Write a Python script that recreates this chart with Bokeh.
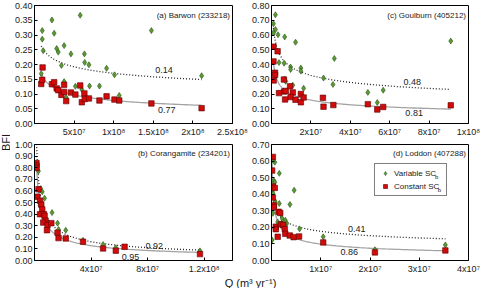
import numpy as np
from math import pi
from bokeh.plotting import figure
from bokeh.models import Range1d, FixedTicker, Label, Legend, LegendItem, PrintfTickFormatter
from bokeh.layouts import row, column
from bokeh.embed import file_html
from bokeh.resources import INLINE

FONT = "Liberation Sans"
GREEN_FILL, GREEN_LINE = "#5a9a35", "#2a5214"
RED_FILL, RED_LINE = "#d20a0a", "#5e0000"
TXT = "#1a1a1a"

# ---------------- (a) Barwon ----------------
A_Q_VAR = [8.5e6, 9.8e6, 9.8e6, 11e6, 22e6, 24.8e6, 28e6, 30e6, 34e6, 37.4e6, 37.4e6, 40e6, 46e6,
           51.6e6, 57.7e6, 59.8e6, 63e6, 63.4e6, 68.7e6, 69.5e6, 82e6, 91e6, 101e6, 107e6, 147.6e6, 211e6]
A_BFI_VAR = [0.169, 0.315, 0.286, 0.247, 0.351, 0.306, 0.254, 0.242, 0.197, 0.264, 0.142, 0.088, 0.236,
             0.126, 0.367, 0.115, 0.236, 0.207, 0.199, 0.127, 0.127, 0.187, 0.165, 0.095, 0.315, 0.162]
A_Q_CON = [8.5e6, 9.8e6, 10.2e6, 22e6, 24.8e6, 28e6, 30e6, 34e6, 37.4e6, 37.4e6, 40e6, 46e6, 51.6e6,
           57.7e6, 59.8e6, 63e6, 63.4e6, 68.7e6, 82e6, 91e6, 101e6, 107e6, 147.6e6, 211e6]
A_BFI_CON = [0.134, 0.148, 0.190, 0.133, 0.140, 0.119, 0.113, 0.097, 0.131, 0.107, 0.076, 0.105, 0.098,
             0.129, 0.072, 0.102, 0.083, 0.085, 0.078, 0.092, 0.081, 0.078, 0.068, 0.052]
A_XTICKS = [5e7, 1e8, 1.5e8, 2e8, 2.5e8]
A_XLABELS = ["5x10⁷", "1x10⁸", "1.5x10⁸", "2x10⁸", "2.5x10⁸"]
A_YTICKS = [0.0, 0.05, 0.10, 0.15, 0.20, 0.25, 0.30, 0.35, 0.40]
A_TITLE = "(a) Barwon (233218)"
A_R2 = ["0.14", "0.77"]

# ---------------- (b) Corangamite ----------------
B_Q_VAR = [1.4e6, 2.8e6, 4.4e6, 5.5e6, 7.1e6, 3.9e6, 6.0e6, 7.1e6, 8.5e6, 8.8e6, 12.4e6, 16.3e6,
           17.0e6, 22.1e6, 34.3e6, 48.5e6, 57.5e6, 117e6]
B_BFI_VAR = [0.83, 0.771, 0.620, 0.592, 0.537, 0.476, 0.399, 0.366, 0.344, 0.316, 0.413, 0.322,
             0.267, 0.261, 0.174, 0.137, 0.110, 0.083]
B_Q_CON = [1.4e6, 1.4e6, 1.4e6, 2.8e6, 2.1e6, 3.9e6, 4.8e6, 5.5e6, 3.9e6, 6.7e6, 7.1e6, 7.8e6, 6.2e6,
           9.2e6, 8.8e6, 11.9e6, 16.3e6, 17.0e6, 22.1e6, 34.3e6, 48.5e6, 57.5e6, 63.7e6, 117e6]
B_BFI_CON = [0.840, 0.818, 0.798, 0.614, 0.550, 0.515, 0.482, 0.440, 0.399, 0.399, 0.385, 0.344, 0.327,
             0.306, 0.261, 0.322, 0.240, 0.193, 0.190, 0.162, 0.104, 0.085, 0.118, 0.055]
B_XTICKS = [4e7, 8e7, 1.2e8]
B_XLABELS = ["4x10⁷", "8x10⁷", "1.2x10⁸"]
B_YTICKS = [0.0, 0.1, 0.2, 0.3, 0.4, 0.5, 0.6, 0.7, 0.8, 0.9, 1.0]
B_TITLE = "(b) Corangamite (234201)"
B_R2 = ["0.92", "0.95"]

# ---------------- (c) Goulburn ----------------
C_Q_VAR = [1.0e6, 2.0e6, 2.0e6, 1.0e6, 3.3e6, 6.7e6, 12.2e6, 31.9e6, 3.8e6, 6.4e6, 9.7e6, 9.7e6,
           14.9e6, 14.9e6, 6.7e6, 7.2e6, 10.8e6, 16.3e6, 26.4e6, 31.2e6, 48.9e6, 56.7e6, 53.7e6, 91e6]
C_BFI_VAR = [0.677, 0.737, 0.637, 0.615, 0.602, 0.587, 0.551, 0.441, 0.413, 0.409, 0.383, 0.366,
             0.376, 0.355, 0.301, 0.286, 0.260, 0.239, 0.308, 0.265, 0.211, 0.226, 0.142, 0.559]
C_Q_CON = [1.0e6, 1.0e6, 3.1e6, 1.8e6, 1.8e6, 1.1e6, 3.8e6, 6.4e6, 6.3e6, 7.2e6, 6.9e6, 9.4e6, 10.8e6,
           9.7e6, 12.2e6, 14.9e6, 14.9e6, 16.3e6, 26.1e6, 26.4e6, 31.4e6, 48.9e6, 53.7e6, 56.7e6, 91e6]
C_BFI_CON = [0.521, 0.421, 0.490, 0.344, 0.329, 0.292, 0.206, 0.217, 0.298, 0.221, 0.163, 0.252, 0.211,
             0.179, 0.161, 0.200, 0.144, 0.176, 0.174, 0.114, 0.125, 0.131, 0.095, 0.112, 0.123]
C_XTICKS = [2e7, 4e7, 6e7, 8e7, 1e8]
C_XLABELS = ["2x10⁷", "4x10⁷", "6x10⁷", "8x10⁷", "1x10⁸"]
C_YTICKS = [0.0, 0.1, 0.2, 0.3, 0.4, 0.5, 0.6, 0.7, 0.8]
C_TITLE = "(c) Goulburn (405212)"
C_R2 = ["0.48", "0.81"]

# ---------------- (d) Loddon ----------------
D_Q_VAR = [0.27e6, 0.67e6, 1.58e6, 0.47e6, 0.67e6, 0.13e6, 0.33e6, 1.58e6, 3.74e6, 4.6e6, 0.27e6, 1.26e6,
           1.9e6, 2.2e6, 2.0e6, 2.8e6, 3.1e6, 2.6e6, 5.7e6, 10.5e6, 21e6, 35.3e6, 0.13e6, 0.73e6]
D_BFI_VAR = [0.610, 0.593, 0.526, 0.482, 0.472, 0.415, 0.405, 0.344, 0.338, 0.424, 0.285, 0.233,
             0.281, 0.252, 0.224, 0.243, 0.224, 0.214, 0.191, 0.143, 0.065, 0.094, 0.124, 0.357]
D_Q_CON = [0.27e6, 0.13e6, 0.27e6, 0.66e6, 0.27e6, 0.47e6, 0.47e6, 1.45e6, 1.77e6, 0.87e6, 0.87e6,
           1.26e6, 1.9e6, 2.4e6, 2.7e6, 2.8e6, 3.7e6, 4.5e6, 5.6e6, 10.5e6, 21e6, 35.3e6]
D_BFI_CON = [0.625, 0.543, 0.447, 0.438, 0.380, 0.334, 0.323, 0.294, 0.287, 0.204, 0.189,
             0.143, 0.218, 0.214, 0.189, 0.161, 0.151, 0.141, 0.145, 0.109, 0.049, 0.061]
D_XTICKS = [1e7, 2e7, 3e7, 4e7]
D_XLABELS = ["1x10⁷", "2x10⁷", "3x10⁷", "4x10⁷"]
D_YTICKS = [0.0, 0.1, 0.2, 0.3, 0.4, 0.5, 0.6, 0.7]
D_TITLE = "(d) Loddon (407288)"
D_R2 = ["0.41", "0.86"]

LEGEND_LABELS = ["Variable SC", "Constant SC"]
LEGEND_SUB = "b"
Y_LABEL = "BFI"
X_LABEL = "Q (m³ yr⁻¹)"


def power_fit(q, b):
    slope, intercept = np.polyfit(np.log(q), np.log(b), 1)
    xs = np.geomspace(min(q), max(q), 200)
    return xs, np.exp(intercept) * xs ** slope


def panel(qv, bv, qc, bc, xmax, ymax, xticks, xlabels, yticks, title, r2, r2v_pos, r2c_pos,
          width, height, bl, br, bt, bb, legend=False):
    fw = width - bl - br
    fh = height - bt - bb
    px = xmax / fw
    py = ymax / fh
    p = figure(width=width, height=height, x_range=Range1d(0, xmax), y_range=Range1d(0, ymax),
               output_backend="svg", toolbar_location=None,
               min_border_left=bl, min_border_right=br, min_border_top=bt, min_border_bottom=bb,
               background_fill_color="white", border_fill_color="white")
    p.grid.visible = False
    p.outline_line_color = "black"
    p.outline_line_width = 1
    for ax in (p.xaxis[0], p.yaxis[0]):
        ax.axis_line_color = "black"
        ax.major_tick_line_color = "black"
        ax.major_tick_in = 3
        ax.major_tick_out = 0
        ax.minor_tick_line_color = None
        ax.major_label_text_font = FONT
        ax.major_label_text_font_size = "9px"
        ax.major_label_text_color = TXT
    xa = p.xaxis[0]
    xa.ticker = FixedTicker(ticks=xticks)
    xa.major_label_overrides = {t: l for t, l in zip(xticks, xlabels)}
    xa.major_label_standoff = 3
    ya = p.yaxis[0]
    ya.ticker = FixedTicker(ticks=yticks)
    ya.formatter = PrintfTickFormatter(format="%.2f")
    ya.major_label_standoff = 2

    xs, ys = power_fit(qv, bv)
    p.line(xs, ys, line_color="#222222", line_width=1.3, line_dash="1 2")
    xs, ys = power_fit(qc, bc)
    p.line(xs, ys, line_color="#a3a3a3", line_width=1.3)

    rv = p.scatter(qv, bv, marker="diamond", size=6, fill_color=GREEN_FILL, line_color=GREEN_LINE,
                   line_width=0.6)
    rc = p.scatter(qc, bc, marker="square", size=5.5, fill_color=RED_FILL, line_color=RED_LINE,
                   line_width=0.6)

    p.add_layout(Label(x=xmax - 2.5 * px, y=ymax - 9.5 * py, text=title, text_align="right",
                       text_baseline="middle", text_font=FONT, text_font_size="8px", text_color=TXT))
    for txt, pos in zip(r2, (r2v_pos, r2c_pos)):
        p.add_layout(Label(x=pos[0], y=pos[1], text=txt, text_align="center", text_baseline="middle",
                           text_font=FONT, text_font_size="9px", text_color=TXT))

    if legend:
        lx, ly = 103, 64
        lg = Legend(items=[LegendItem(label=LEGEND_LABELS[0], renderers=[rv]),
                           LegendItem(label=LEGEND_LABELS[1], renderers=[rc])],
                    location=(lx, ly), padding=4, spacing=3, margin=0,
                    glyph_width=12, glyph_height=10, label_height=10, label_width=48,
                    label_standoff=3, label_text_font=FONT, label_text_font_size="8px",
                    label_text_color=TXT, border_line_color="black", border_line_width=1,
                    background_fill_alpha=0.0)
        p.add_layout(lg)
        x0 = lx + 4 + 12 + 3
        for tw, cy in ((42.4, ly + 22), (45.0, ly + 9)):
            p.add_layout(Label(x=(x0 + tw) * px, y=(cy - 1.5) * py, text=LEGEND_SUB,
                               text_align="left", text_baseline="middle", text_font=FONT,
                               text_font_size="6px", text_color=TXT, level="overlay"))
    return p


pa = panel(A_Q_VAR, A_BFI_VAR, A_Q_CON, A_BFI_CON, 2.5e8, 0.40, A_XTICKS, A_XLABELS, A_YTICKS, A_TITLE,
           A_R2, (163.5e6, 0.181), (167e6, 0.045), 238, 139, 24, 16, 5, 16)
pc = panel(C_Q_VAR, C_BFI_VAR, C_Q_CON, C_BFI_CON, 1e8, 0.80, C_XTICKS, C_XLABELS, C_YTICKS, C_TITLE,
           C_R2, (71.4e6, 0.284), (72.4e6, 0.071), 236, 139, 22, 16, 5, 16)
pb = panel(B_Q_VAR, B_BFI_VAR, B_Q_CON, B_BFI_CON, 1.4e8, 1.0, B_XTICKS, B_XLABELS, B_YTICKS, B_TITLE,
           B_R2, (84.6e6, 0.129), (67.8e6, 0.027), 238, 137, 24, 16, 5, 14)
pd_ = panel(D_Q_VAR, D_BFI_VAR, D_Q_CON, D_BFI_CON, 4e7, 0.70, D_XTICKS, D_XLABELS, D_YTICKS, D_TITLE,
            D_R2, (17.3e6, 0.191), (15.8e6, 0.052), 236, 137, 22, 16, 5, 14, legend=True)


def strip(width, height):
    s = figure(width=width, height=height, x_range=Range1d(0, width), y_range=Range1d(0, height),
               output_backend="svg", toolbar_location=None, x_axis_type=None, y_axis_type=None,
               min_border=0, min_border_left=0, min_border_right=0, min_border_top=0,
               min_border_bottom=0, background_fill_color="white", border_fill_color="white")
    s.grid.visible = False
    s.outline_line_color = None
    return s


ys = strip(10, 288)
ys.add_layout(Label(x=5, y=288 - 142, text=Y_LABEL, angle=pi / 2, text_align="center",
                    text_baseline="middle", text_font=FONT, text_font_size="11px", text_color=TXT))
xs_ = strip(474, 12)
xs_.add_layout(Label(x=240, y=6, text=X_LABEL, text_align="center", text_baseline="middle",
                     text_font=FONT, text_font_size="11px", text_color=TXT))

layout = row(ys, column(row(pa, pc), row(pb, pd_), xs_))

open("out.html", "w").write(file_html(layout, INLINE))
